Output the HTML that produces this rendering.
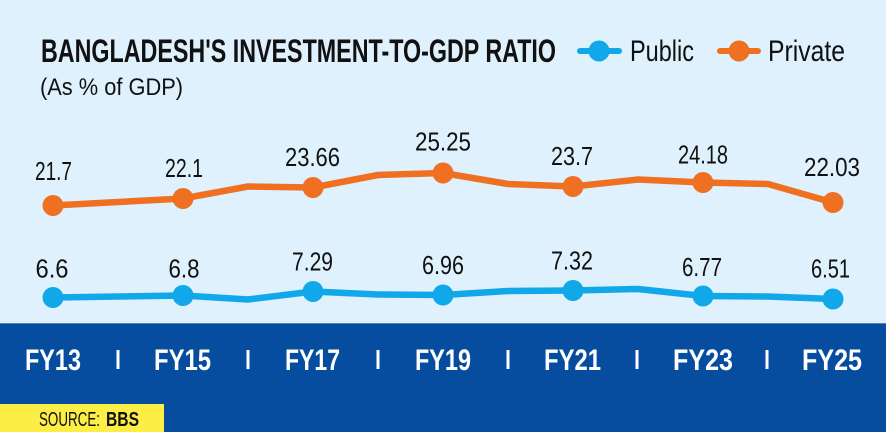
<!DOCTYPE html>
<html>
<head>
<meta charset="utf-8">
<style>
  html,body{margin:0;padding:0;background:#ffffff;}
  svg{display:block;}
  text{font-family:"Liberation Sans", Arial, sans-serif;}
</style>
</head>
<body>
<svg width="886" height="441" viewBox="0 0 886 441" xmlns="http://www.w3.org/2000/svg">
  <!-- backgrounds -->
  <rect x="0" y="0" width="886" height="441" fill="#ffffff"/>
  <rect x="0" y="0" width="886" height="323" fill="#dff1fc"/>
  <rect x="0" y="323" width="886" height="109" fill="#064da0"/>
  <rect x="0" y="323" width="886" height="1" fill="#5f7fae"/>

  <!-- title -->
  <text x="41" y="62" font-size="32" font-weight="bold" fill="#111" textLength="515" lengthAdjust="spacingAndGlyphs">BANGLADESH'S INVESTMENT-TO-GDP RATIO</text>
  <text x="40" y="95" font-size="24" fill="#111" textLength="143" lengthAdjust="spacingAndGlyphs">(As % of GDP)</text>

  <!-- legend -->
  <line x1="580" y1="51" x2="619" y2="51" stroke="#10a8e8" stroke-width="6" stroke-linecap="round"/>
  <circle cx="599" cy="51" r="10.5" fill="#10a8e8"/>
  <text x="630" y="61" font-size="30" fill="#111" textLength="64" lengthAdjust="spacingAndGlyphs">Public</text>
  <line x1="720" y1="51" x2="758" y2="51" stroke="#f07022" stroke-width="6" stroke-linecap="round"/>
  <circle cx="739" cy="51" r="10.5" fill="#f07022"/>
  <text x="768" y="61" font-size="30" fill="#111" textLength="77" lengthAdjust="spacingAndGlyphs">Private</text>

  <!-- private series -->
  <polyline fill="none" stroke="#f07022" stroke-width="6.5" stroke-linejoin="round" stroke-linecap="round"
    points="53,205.5 118,202 183,198.5 248,186.5 313,187.5 378,175 443,173 508,184 573,186.5 638,179.5 703,182.5 768,184 833,202.5"/>
  <g fill="#f07022">
    <circle cx="53" cy="205.5" r="10.5"/>
    <circle cx="183" cy="198.5" r="10.5"/>
    <circle cx="313" cy="187.5" r="10.5"/>
    <circle cx="443" cy="173" r="10.5"/>
    <circle cx="573" cy="186.5" r="10.5"/>
    <circle cx="703" cy="182.5" r="10.5"/>
    <circle cx="833" cy="202.5" r="10.5"/>
  </g>

  <!-- public series -->
  <polyline fill="none" stroke="#10a8e8" stroke-width="6.5" stroke-linejoin="round" stroke-linecap="round"
    points="53,297.5 118,296.5 183,295.5 248,299.5 313,291.5 378,294.5 443,295 508,291 573,290.5 638,289 703,296 768,296.5 833,299"/>
  <g fill="#10a8e8">
    <circle cx="53" cy="297.5" r="10.5"/>
    <circle cx="183" cy="295.5" r="10.5"/>
    <circle cx="313" cy="291.5" r="10.5"/>
    <circle cx="443" cy="295" r="10.5"/>
    <circle cx="573" cy="290.5" r="10.5"/>
    <circle cx="703" cy="296" r="10.5"/>
    <circle cx="833" cy="299" r="10.5"/>
  </g>

  <!-- private labels -->
  <g font-size="26" fill="#111">
    <text x="35" y="180" textLength="37" lengthAdjust="spacingAndGlyphs">21.7</text>
    <text x="165" y="177" textLength="38" lengthAdjust="spacingAndGlyphs">22.1</text>
    <text x="285" y="166" textLength="55" lengthAdjust="spacingAndGlyphs">23.66</text>
    <text x="415" y="150.5" textLength="56" lengthAdjust="spacingAndGlyphs">25.25</text>
    <text x="551" y="165" textLength="42" lengthAdjust="spacingAndGlyphs">23.7</text>
    <text x="678" y="163.5" textLength="50" lengthAdjust="spacingAndGlyphs">24.18</text>
    <text x="804" y="176" textLength="56" lengthAdjust="spacingAndGlyphs">22.03</text>
  </g>

  <!-- public labels -->
  <g font-size="26" fill="#111">
    <text x="35.5" y="277.5" textLength="33" lengthAdjust="spacingAndGlyphs">6.6</text>
    <text x="168.5" y="277.5" textLength="31" lengthAdjust="spacingAndGlyphs">6.8</text>
    <text x="292" y="270.5" textLength="41" lengthAdjust="spacingAndGlyphs">7.29</text>
    <text x="422" y="274" textLength="42" lengthAdjust="spacingAndGlyphs">6.96</text>
    <text x="551" y="269.5" textLength="42" lengthAdjust="spacingAndGlyphs">7.32</text>
    <text x="682" y="276" textLength="40" lengthAdjust="spacingAndGlyphs">6.77</text>
    <text x="811" y="277.5" textLength="39" lengthAdjust="spacingAndGlyphs">6.51</text>
  </g>

  <!-- x-axis labels -->
  <g font-size="30" font-weight="bold" fill="#ffffff">
    <text x="25" y="370" textLength="56" lengthAdjust="spacingAndGlyphs">FY13</text>
    <text x="154" y="370" textLength="57" lengthAdjust="spacingAndGlyphs">FY15</text>
    <text x="285" y="370" textLength="55" lengthAdjust="spacingAndGlyphs">FY17</text>
    <text x="415" y="370" textLength="56" lengthAdjust="spacingAndGlyphs">FY19</text>
    <text x="544" y="370" textLength="57" lengthAdjust="spacingAndGlyphs">FY21</text>
    <text x="673" y="370" textLength="60" lengthAdjust="spacingAndGlyphs">FY23</text>
    <text x="802" y="370" textLength="60" lengthAdjust="spacingAndGlyphs">FY25</text>
  </g>
  <g fill="#ffffff">
    <rect x="116.5" y="350" width="3" height="19"/>
    <rect x="246.5" y="350" width="3" height="19"/>
    <rect x="376.5" y="350" width="3" height="19"/>
    <rect x="506.5" y="350" width="3" height="19"/>
    <rect x="635.5" y="350" width="3" height="19"/>
    <rect x="765.5" y="350" width="3" height="19"/>
  </g>

  <!-- source -->
  <rect x="0" y="404" width="164" height="28" fill="#fdee46"/>
  <text x="39" y="426" font-size="20" fill="#111" textLength="61" lengthAdjust="spacingAndGlyphs">SOURCE:</text>
  <text x="106" y="426" font-size="20" font-weight="bold" fill="#111" textLength="33" lengthAdjust="spacingAndGlyphs">BBS</text>
</svg>
</body>
</html>
